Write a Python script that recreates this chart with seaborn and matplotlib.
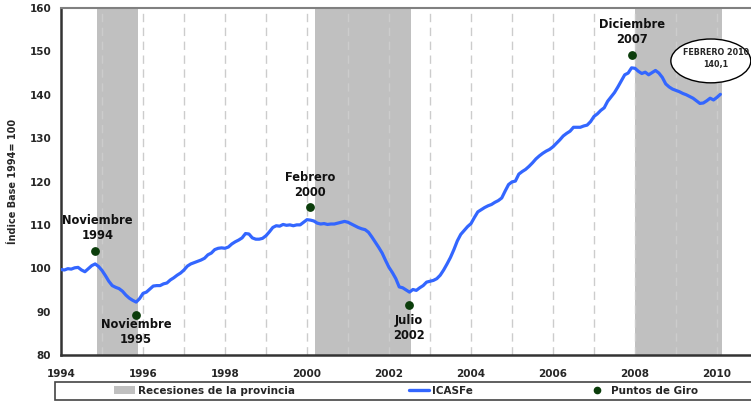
import matplotlib
matplotlib.use('Agg')
import matplotlib.pyplot as plt
from matplotlib.patches import Ellipse, Rectangle, Patch
from matplotlib.lines import Line2D
import seaborn as sns
import pandas as pd
import numpy as np

# monthly ICASFe index, Jan 1994 .. Feb 2010
icasfe = [
    99.7, 99.6, 99.9, 99.8, 100.1, 100.2, 99.6, 99.2, 99.9, 100.6, 101.0, 100.4,   # 1994
    99.5, 98.3, 97.0, 96.0, 95.6, 95.3, 94.7, 93.8, 93.1, 92.6, 92.2, 93.0,        # 1995
    94.2, 94.5, 95.2, 95.9, 96.0, 96.0, 96.4, 96.6, 97.3, 97.8, 98.4, 98.9,        # 1996
    99.6, 100.5, 101.0, 101.3, 101.6, 101.9, 102.3, 103.1, 103.5, 104.3, 104.6, 104.7,  # 1997
    104.6, 104.9, 105.6, 106.1, 106.5, 107.0, 108.0, 107.9, 107.0, 106.7, 106.7, 106.9,  # 1998
    107.5, 108.4, 109.4, 109.8, 109.7, 110.1, 109.9, 110.0, 109.8, 110.0, 110.0, 110.6,  # 1999
    111.2, 111.1, 110.9, 110.4, 110.2, 110.3, 110.1, 110.2, 110.2, 110.4, 110.6, 110.8,  # 2000
    110.6, 110.2, 109.8, 109.4, 109.1, 108.9, 108.3, 107.2, 106.0, 104.8, 103.5, 101.8,  # 2001
    100.2, 99.0, 97.6, 95.7, 95.5, 95.0, 94.5, 95.1, 94.9, 95.5, 96.0, 96.8,        # 2002
    97.0, 97.2, 97.6, 98.4, 99.6, 101.0, 102.5, 104.3, 106.3, 107.8, 108.7, 109.6,  # 2003
    110.3, 111.7, 113.0, 113.5, 114.0, 114.4, 114.7, 115.2, 115.6, 116.2, 117.8, 119.3,  # 2004
    119.9, 120.1, 121.7, 122.3, 122.8, 123.5, 124.3, 125.2, 125.9, 126.5, 127.0, 127.4,  # 2005
    128.0, 128.8, 129.6, 130.5, 131.1, 131.6, 132.5, 132.5, 132.5, 132.8, 133.0, 133.8,  # 2006
    135.0, 135.6, 136.4, 137.0, 138.5, 139.5, 140.5, 141.8, 143.2, 144.6, 145.0, 146.2,  # 2007
    146.1, 145.4, 144.9, 145.2, 144.6, 145.1, 145.6, 145.0, 144.0, 142.5, 141.8, 141.3,  # 2008
    141.0, 140.7, 140.3, 140.0, 139.6, 139.2, 138.6, 138.0, 138.1, 138.6, 139.2, 138.8,  # 2009
    139.4, 140.1,                                                                    # 2010
]
start_year = 1994

# recessions (decimal years)
rec_start = [1994.88, 2000.20, 2008.00]
rec_end = [1995.88, 2002.54, 2010.12]

# turning points
giro_x = [1994.83, 1995.83, 2000.07, 2002.49, 2007.92]
giro_y = [104.0, 89.2, 114.2, 91.6, 149.2]
giro_lbl = ['Noviembre\n1994', 'Noviembre\n1995', 'Febrero\n2000', 'Julio\n2002', 'Diciembre\n2007']
lbl_x = [1994.89, 1995.83, 2000.07, 2002.49, 2007.93]
lbl_y = [109.2, 85.2, 119.3, 86.2, 154.5]

df = pd.DataFrame({'anio': start_year + np.arange(len(icasfe)) / 12, 'icasfe': icasfe})

sns.set_style('white')
plt.rcParams['font.family'] = ['DejaVu Sans']

fig = plt.figure(figsize=(7.51, 4.01), dpi=100)
ax = fig.add_axes([61 / 751, 46 / 401, 690 / 751, 347 / 401])

for s, e in zip(rec_start, rec_end):
    ax.axvspan(s, e, color='#c0c0c0', lw=0, zorder=0)

for yr in range(1995, 2011):
    ax.axvline(yr, color='#cccccc', lw=1, ls=(0, (6, 4)), zorder=0.5)

sns.lineplot(data=df, x='anio', y='icasfe', ax=ax, color='#3366ff', lw=2.3, zorder=3)
ax.scatter(giro_x, giro_y, s=28, color='#0b3d0b', zorder=4)

for x, y, t in zip(lbl_x, lbl_y, giro_lbl):
    ax.text(x, y, t, ha='center', va='center', fontsize=8.3, fontweight='bold',
            color='#111111', linespacing=1.2, zorder=5)

ell = Ellipse((2009.85, 147.8), 1.95, 10.1, facecolor='white', edgecolor='black',
              lw=1, clip_on=False, zorder=6)
ax.add_patch(ell)
ax.text(2009.98, 148.3, 'FEBRERO 2010\n140,1', ha='center', va='center', fontsize=5.8,
        fontweight='bold', zorder=7, linespacing=1.4)

ax.set_xlim(1994, 2010.83)
ax.set_ylim(80, 160)
ax.set_xticks(range(1994, 2011, 2))
ax.set_xticks(range(1994, 2011), minor=True)
ax.set_yticks(range(80, 161, 10))
ax.tick_params(axis='both', which='both', direction='out', length=4, width=1.2,
               color='#333333', labelsize=7.5, pad=3)
ax.tick_params(axis='x', which='major', pad=6)
for lab in ax.get_xticklabels() + ax.get_yticklabels():
    lab.set_fontweight('bold')
ax.set_xlabel('')
ax.set_ylabel('Índice Base 1994= 100', fontsize=7, fontweight='bold', labelpad=8)

for side in ['left', 'bottom']:
    ax.spines[side].set_color('#333333')
    ax.spines[side].set_linewidth(1.8)
ax.spines['top'].set_color('#808080')
ax.spines['top'].set_linewidth(1.5)
ax.spines['right'].set_visible(False)

# legend strip below
fig.patches.append(Rectangle((55 / 751, 1 / 401), 700 / 751, 18 / 401, transform=fig.transFigure,
                             facecolor='white', edgecolor='#444444', lw=1.2))
handles = [Patch(facecolor='#c0c0c0', edgecolor='none'),
           Line2D([], [], color='#3366ff', lw=2.4),
           Line2D([], [], color='#0b3d0b', marker='o', ls='none', markersize=4.5)]
labels = ['Recesiones de la provincia', 'ICASFe', 'Puntos de Giro']
leg = fig.legend(handles, labels, loc='center', bbox_to_anchor=(406 / 751, 10 / 401), ncol=3,
                 frameon=False, fontsize=7.5, handlelength=2.0, handletextpad=0.3,
                 columnspacing=10.9, borderpad=0, handleheight=0.8)
for t in leg.get_texts():
    t.set_fontweight('bold')

fig.savefig('out.png', dpi=100)
